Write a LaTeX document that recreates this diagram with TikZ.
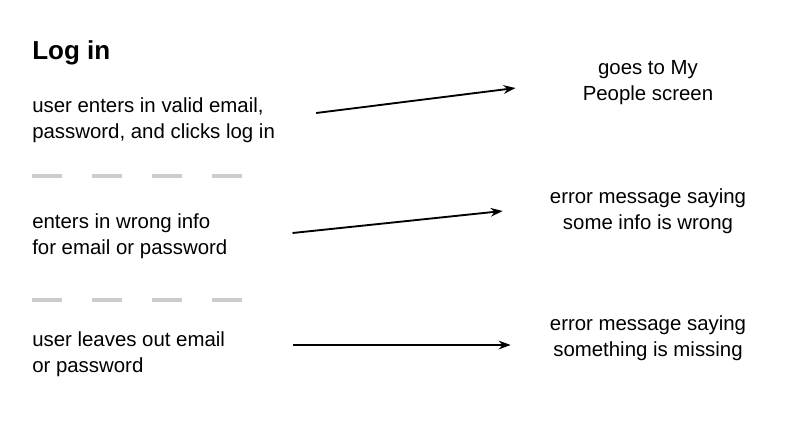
\documentclass[tikz,border=0pt]{standalone}
\usepackage{fontspec}
\setmainfont{Liberation Sans}
\usetikzlibrary{arrows.meta}

\begin{document}
\begin{tikzpicture}[x=0.75pt, y=-0.75pt,
	case/.style={anchor=west, align=left, inner sep=0pt, font=\fontsize{15.3}{19.5}\selectfont},
	result/.style={align=center, inner sep=0pt, font=\fontsize{15.3}{19.5}\selectfont},
	arrow/.style={-{Stealth[length=9pt, width=6.5pt]}, line width=1.4pt},
	divider/.style={draw=gray!40, line width=2.4pt, dash pattern=on 22.5pt off 22.5pt}]
	\useasboundingbox (0,0) rectangle (800,440);

	\node [anchor=west, inner sep=0pt, font=\fontsize{19.5}{24}\selectfont\bfseries] (title) at (32,53) {Log in};

	\node [case] (valid) at (32,120) {user enters in valid email,\\password, and clicks log in};
	\node [result] (people) at (648,83) {goes to My\\People screen};
	\draw [arrow] ([shift={(41,-7)}]valid.east) -- ([shift={(-67,5)}]people.west);

	\draw [divider] (32,176) -- (242,176);

	\node [case] (wrong) at (32,236) {enters in wrong info\\for email or password};
	\node [result] (wrongmsg) at (648,211) {error message saying\\some info is wrong};
	\draw [arrow] ([shift={(65,-3)}]wrong.east) -- ([shift={(-47,0)}]wrongmsg.west);

	\draw [divider] (32,300) -- (242,300);

	\node [case] (missing) at (32,354) {user leaves out email\\or password};
	\node [result] (missingmsg) at (648,338) {error message saying\\something is missing};
	\draw [arrow] ([shift={(68,-9)}]missing.east) -- ([shift={(-39,7)}]missingmsg.west);
\end{tikzpicture}
\end{document}
